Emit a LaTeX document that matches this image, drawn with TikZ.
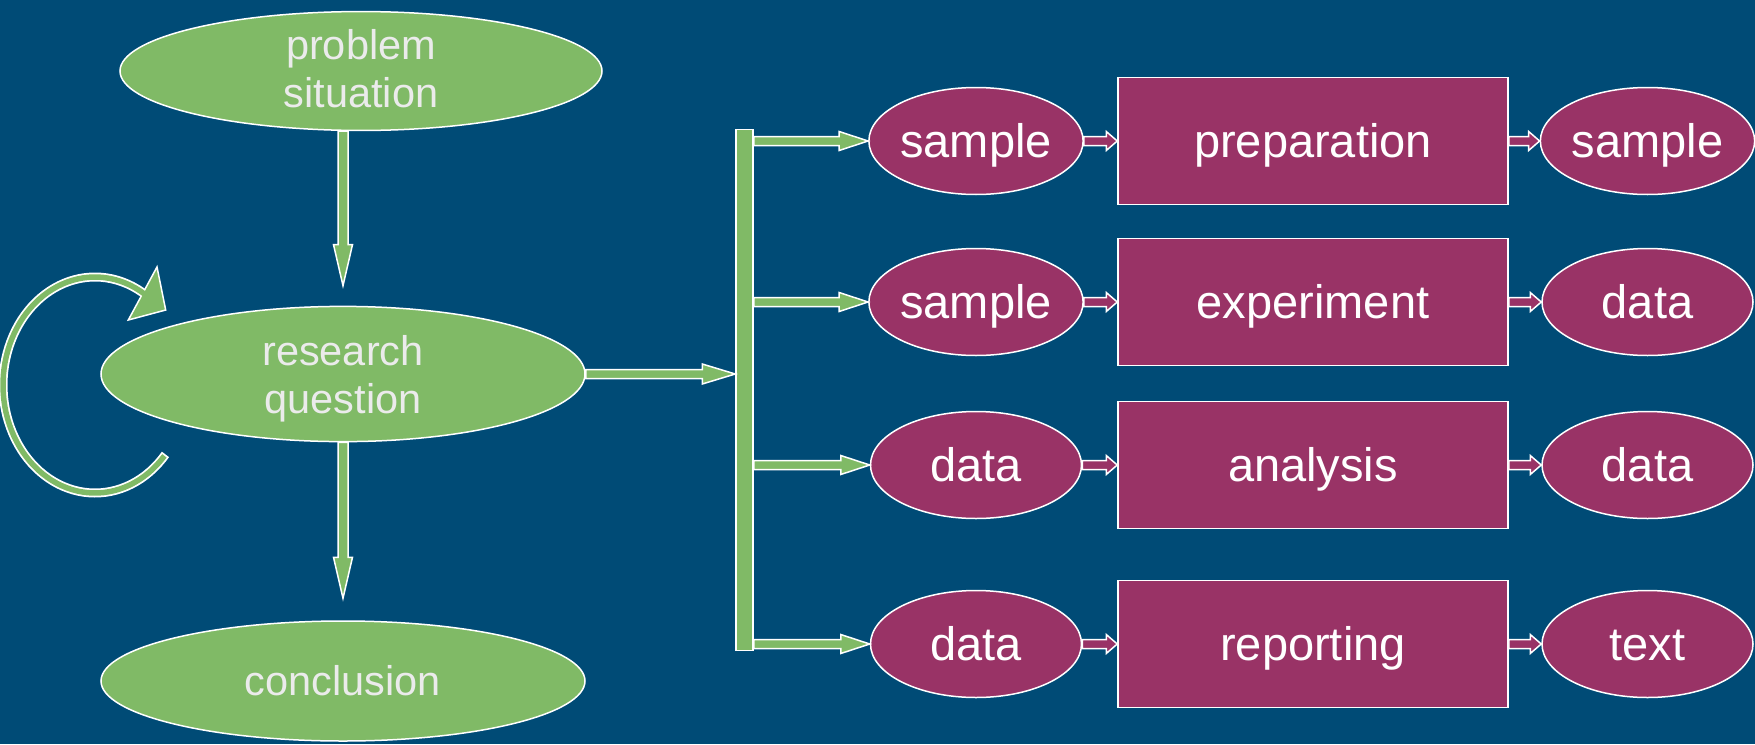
\documentclass[tikz,border=0pt]{standalone}
\usepackage{fontspec}
\setmainfont{Liberation Sans}
\usetikzlibrary{shapes.geometric,calc}
\definecolor{bg}{RGB}{0,75,118}
\definecolor{grn}{RGB}{128,186,102}
\definecolor{mag}{RGB}{153,51,102}
\definecolor{gtxt}{RGB}{235,235,235}
\tikzset{
  gell/.style={ellipse, fill=grn, draw=white, line width=1.5pt, inner sep=0pt,
    text=gtxt, align=center, font=\fontsize{41.5}{48}\selectfont},
  gone/.style={text height=37.5pt, text depth=8.8pt},
  mell/.style={ellipse, fill=mag, draw=white, line width=1.5pt, inner sep=0pt,
    text=white, minimum width=211, minimum height=107, font=\fontsize{47}{54}\selectfont,
    text height=42.5pt, text depth=10pt},
  mbox/.style={rectangle, fill=mag, draw=white, line width=1.5pt, inner sep=0pt,
    minimum width=390, minimum height=127, text=white, font=\fontsize{47}{54}\selectfont,
    text height=42.5pt, text depth=10pt},
  barbox/.style={rectangle, fill=grn, draw=white, line width=1.5pt, inner sep=0pt,
    minimum width=17, minimum height=521},
  blockR/.style n args={3}{fill=grn, draw=white, line width=1.5pt, line join=miter,
    to path={let \p1=(\tikztostart), \p2=(\tikztotarget) in
      (\x1,\y1-#1) -- (\x2-#3,\y1-#1) -- (\x2-#3,\y1-#2) -- (\x2,\y1)
      -- (\x2-#3,\y1+#2) -- (\x2-#3,\y1+#1) -- (\x1,\y1+#1) -- cycle}},
  blockD/.style n args={3}{fill=grn, draw=white, line width=1.5pt, line join=miter,
    to path={let \p1=(\tikztostart), \p2=(\tikztotarget) in
      (\x1-#1,\y1) -- (\x1-#1,\y2+#3) -- (\x1-#2,\y2+#3) -- (\x1,\y2)
      -- (\x1+#2,\y2+#3) -- (\x1+#1,\y2+#3) -- (\x1+#1,\y1) -- cycle}},
  magarrow/.style={blockR={4.5pt}{9.5pt}{11pt}, fill=mag},
}
\begin{document}
\begin{tikzpicture}[x=1pt,y=-1pt]
\useasboundingbox (0,0) rectangle (1755,744);
\fill[bg] (0,0) rectangle (1755,744);

% left column
\node[gell, minimum width=482, minimum height=110] (ps) at (361,71)
  {problem\\situation\rule[-6pt]{0pt}{0pt}};
\node[gell, minimum width=484, minimum height=126] (rq) at (343,374)
  {\rule{0pt}{39pt}research\\question};
\node[gell, gone, minimum width=484, minimum height=120] (cc) at (343,681) {conclusion};

\draw[blockD={5pt}{9.5pt}{41pt}] (rq.north |- ps.south) to ($(rq.north)+(0,-20)$);
\draw[blockD={5pt}{9.5pt}{41pt}] (rq.south) to ($(cc.north)+(0,-22)$);

% loop arrow
\draw[white, line width=9pt] plot[domain=40:304, samples=80] ({95+92*cos(\x)},{385+108*sin(\x)});
\filldraw[fill=grn, draw=white, line width=1.5pt, line join=miter]
  (157,267) -- (128.3,320) -- (165.7,310) -- cycle;
\draw[grn, line width=5.5pt] plot[domain=41:306, samples=80] ({95+92*cos(\x)},{385+108*sin(\x)});

% bar
\node[barbox] (bar) at (744.5,390) {};
\draw[blockR={4.5pt}{10pt}{33pt}] (rq.east) to (bar.west |- rq.east);

% rows
\foreach \i/\y/\a/\b/\c in {1/141/sample/preparation/sample,
                              2/302/sample/experiment/data,
                              3/465/data/analysis/data,
                              4/644/data/reporting/text}{
  \node[mell] (l\i) at (976,\y) {\a};
  \node[mbox] (m\i) at (1313,\y) {\b};
  \node[mell] (r\i) at (1647.5,\y) {\c};
  \draw[blockR={4.5pt}{9.5pt}{29pt}] (bar.east |- l\i.west) to (l\i.west);
  \draw[magarrow] (l\i.east) to (m\i.west);
  \draw[magarrow] (m\i.east) to (r\i.west);
}
\end{tikzpicture}
\end{document}
